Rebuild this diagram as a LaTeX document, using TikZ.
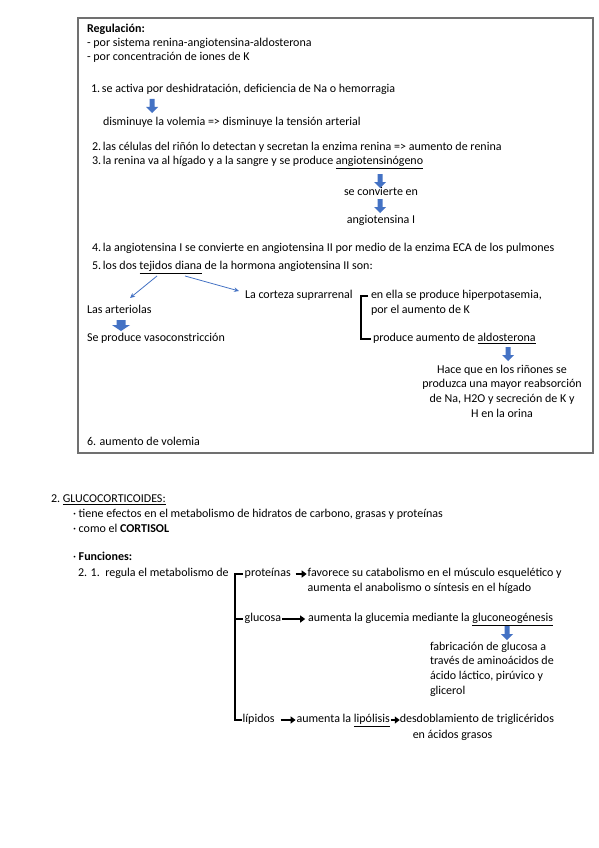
\documentclass[tikz,border=0pt]{standalone}
\usepackage{fontspec}
\setmainfont{Carlito}
\usetikzlibrary{arrows.meta,calc}
\definecolor{oblue}{HTML}{4472C4}
\definecolor{boxgray}{HTML}{707070}
\newcommand\numbox[1]{\makebox[11pt][l]{#1}}
% block arrow pointing down: name, center x, top y, shaft width, head width, length, head length
\newcommand\blkdown[7]{%
  \coordinate (#1) at (#2,#3);
  \fill[oblue] ({#2-#4/2},#3) -- ({#2+#4/2},#3) -- ({#2+#4/2},{#3+#6-#7}) -- ({#2+#5/2},{#3+#6-#7})
    -- (#2,{#3+#6}) -- ({#2-#5/2},{#3+#6-#7}) -- ({#2-#4/2},{#3+#6-#7}) -- cycle;}
\begin{document}
\begin{tikzpicture}[x=1pt,y=-1pt,
  every node/.style={inner sep=0pt,outer sep=0pt,font=\fontsize{12}{14.6}\selectfont},
  txt/.style={anchor=west,text height=8.5pt,text depth=2.8pt},
  ctxt/.style={anchor=center,text height=8.5pt,text depth=2.8pt},
  blk/.style={anchor=center,align=center},
  blkl/.style={anchor=west,align=left},
  thinarrow/.style={draw=oblue,line width=0.8pt,-{Stealth[length=5pt,width=4.5pt]}},
  bracket/.style={draw=black,line width=1.6pt},
  karrow/.style={draw=black,line width=1.6pt,-{Triangle[length=5pt,width=7pt]}}
]
\useasboundingbox (0,0) rectangle (599,848);
\fill[white] (0,0) rectangle (599,848);
% box
\draw[boxgray,line width=1.3pt] (78,18) rectangle (593,453);

\node[txt] (reg) at (87,30) {\textbf{Regulación:}};
\node[txt] (l1) at (87,44) {- por sistema renina-angiotensina-aldosterona};
\node[txt] (l2) at (87,58) {- por concentración de iones de K};
\node[txt] (s1) at (91,90) {\numbox{1.}se activa por deshidratación, deficiencia de Na o hemorragia};
\blkdown{a1}{152}{99}{5}{12}{14}{6}
\node[txt] (s1b) at (103,123) {disminuye la volemia => disminuye la tensión arterial};
\node[txt] (s2) at (92,148) {\numbox{2.}las células del riñón lo detectan y secretan la enzima renina => aumento de renina};
\node[txt] (s3) at (92,162) {\numbox{3.}la renina va al hígado y a la sangre y se produce \underline{angiotensinógeno}};
\blkdown{a2}{380}{174}{5}{12}{14}{6}
\node[ctxt] (conv) at (381,193) {se convierte en};
\blkdown{a3}{380}{199}{5}{12}{14}{6}
\node[ctxt] (ang1) at (381,221) {angiotensina I};
\node[txt] (s4) at (92,249) {\numbox{4.}la angiotensina I se convierte en angiotensina II por medio de la enzima ECA de los pulmones};
\node[txt] (s5) at (92,267) {\numbox{5.}los dos \underline{tejidos diana} de la hormona angiotensina II son:};

\coordinate (td1) at (157,276);
\coordinate (td2) at (185,276);
\coordinate (art1) at (130,298);
\coordinate (cor1) at (239,291);
\node[txt] (arter) at (87,311) {Las arteriolas};
\blkdown{a4}{121}{320}{9}{18}{11}{6}
\node[txt] (vaso) at (87,339) {Se produce vasoconstricción};
\node[txt] (corteza) at (245,296) {La corteza suprarrenal};
\draw[thinarrow] (td1) -- (art1);
\draw[thinarrow] (td2) -- (cor1);

\node[txt] (hiper) at (371,296) {en ella se produce hiperpotasemia,};
\node[txt] (pork) at (371,311) {por el aumento de K};
\node[txt] (aldo) at (373,339) {produce aumento de \underline{aldosterona}};
\draw[bracket] ([xshift=-3pt]hiper.west) -- ++(-7,0) coordinate (bt) |- ([xshift=-2pt]aldo.west);

\blkdown{a5}{508}{347}{5}{12}{14}{6}
\node[blk] (hace) at (502,391) {Hace que en los riñones se\\produzca una mayor reabsorción\\de Na, H2O y secreción de K y\\H en la orina};
\node[txt] (vol) at (87,443) {6. aumento de volemia};

% second part
\node[txt] (gluco) at (51,500) {2.\ \underline{GLUCOCORTICOIDES:}};
\node[txt] (t1) at (73,515) {· tiene efectos en el metabolismo de hidratos de carbono, grasas y proteínas};
\node[txt] (t2) at (73,530) {· como el \textbf{CORTISOL}};
\node[txt] (fun) at (73,558) {· \textbf{Funciones:}};
\node[txt] (r21) at (78,574) {2. 1.\ \ regula el metabolismo de};

\coordinate (bk) at ([xshift=6pt]r21.east);
\node[txt] (prot) at ([xshift=16pt]r21.east) {proteínas};
\node[txt] (fav) at ([xshift=17pt]prot.east) {favorece su catabolismo en el músculo esquelético y};
\node[txt] (aum) at (fav.west |- 0,589) {aumenta el anabolismo o síntesis en el hígado};
\node[txt] (glu) at (prot.west |- 0,619) {glucosa};
\node[txt] (glc) at ([xshift=27pt]glu.east) {aumenta la glucemia mediante la \underline{gluconeogénesis}};
\blkdown{a6}{507}{626}{5}{12}{14}{6}
\node[blkl] (fab) at (430,669) {fabricación de glucosa a\\través de aminoácidos de\\ácido láctico, pirúvico y\\glicerol};
\node[txt] (lip) at ([xshift=-2pt]prot.west |- 0,720) {lípidos};
\node[txt] (lipo) at ([xshift=22pt]lip.east) {aumenta la \underline{lipólisis}};
\node[txt] (desd) at ([xshift=10pt]lipo.east) {desdoblamiento de triglicéridos};
\node[txt] (acid) at ([xshift=13pt]desd.west |- 0,736) {en ácidos grasos};

\draw[bracket] ([xshift=-2pt]prot.west) -- (bk) -- (bk |- lip.west) -- ([xshift=-1pt]lip.west);
\draw[bracket] (bk |- glu.west) -- ([xshift=-2pt]glu.west);

\draw[karrow] ([xshift=5pt]prot.east) -- ([xshift=-1pt]fav.west);
\draw[karrow] ([xshift=1pt]glu.east) -- ([xshift=-3pt]glc.west);
\draw[karrow] ([xshift=6pt]lip.east) -- ([xshift=-1pt]lipo.west);
\draw[karrow] ([xshift=1pt]lipo.east) -- ([xshift=0pt]desd.west);
\end{tikzpicture}
\end{document}
